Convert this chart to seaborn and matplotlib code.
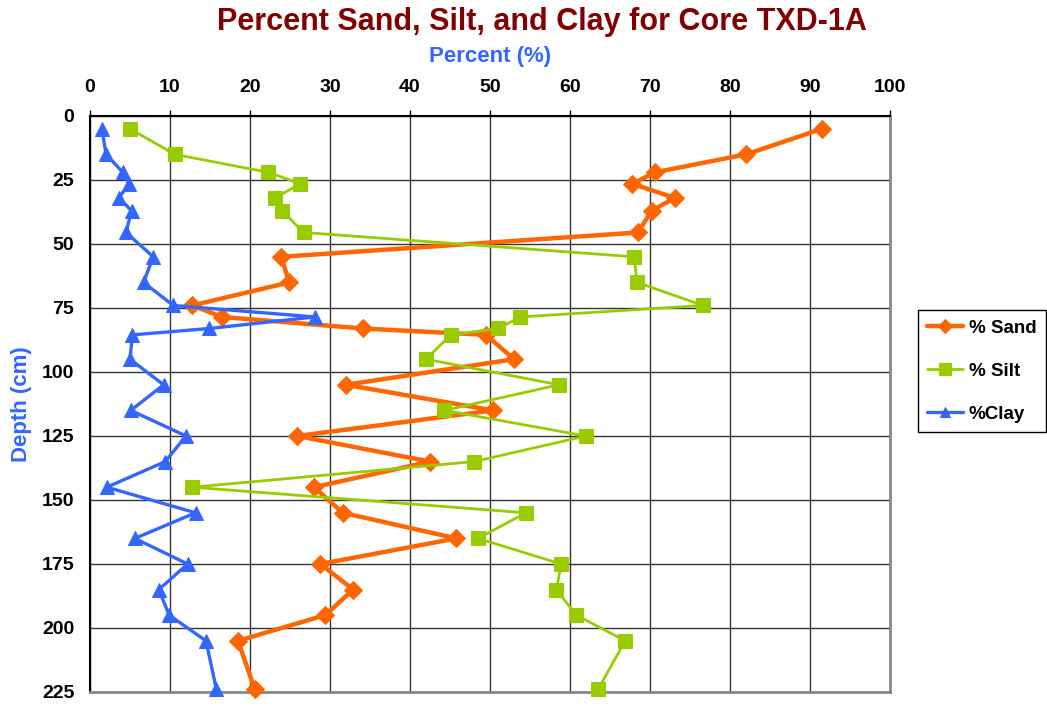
import matplotlib
matplotlib.use("Agg")
import matplotlib.pyplot as plt
import seaborn as sns
import pandas as pd

depth = [5, 15, 22, 26.5, 32, 37, 45.5, 55, 65, 74, 78.5, 83, 85.5, 95, 105,
         115, 125, 135, 145, 155, 165, 175, 185, 195, 205, 224]
sand = [91.5, 82.0, 70.6, 67.8, 73.1, 70.2, 68.5, 23.9, 24.9, 12.8, 16.5, 34.1,
        49.5, 53.0, 32.0, 50.4, 25.9, 42.5, 28.0, 31.6, 45.8, 28.8, 32.9, 29.4,
        18.5, 20.6]
silt = [5.0, 10.6, 22.3, 26.3, 23.1, 24.0, 26.7, 68.0, 68.4, 76.6, 53.8, 51.0,
        45.1, 42.0, 58.6, 44.3, 62.0, 48.0, 12.8, 54.5, 48.5, 58.9, 58.3, 60.8,
        66.9, 63.5]
clay = [1.5, 2.0, 4.1, 4.9, 3.6, 5.2, 4.5, 7.9, 6.7, 10.4, 28.1, 14.9, 5.3, 5.0,
        9.2, 5.1, 12.0, 9.4, 2.1, 13.2, 5.6, 12.2, 8.6, 9.9, 14.5, 15.8]
series_names = ["% Sand", "% Silt", "%Clay"]
x_ticks = [0, 10, 20, 30, 40, 50, 60, 70, 80, 90, 100]
y_ticks = [0, 25, 50, 75, 100, 125, 150, 175, 200, 225]

df = pd.DataFrame({"depth": depth, "sand": sand, "silt": silt, "clay": clay})

sns.set_theme(style="white")
plt.rcParams["font.family"] = ["Liberation Sans", "DejaVu Sans"]
plt.rcParams["font.weight"] = "bold"
plt.rcParams["text.color"] = "black"
plt.rcParams["xtick.color"] = "black"
plt.rcParams["ytick.color"] = "black"

fig = plt.figure(figsize=(10.47, 7.06), dpi=100)
ax = fig.add_axes([90 / 1047, 1 - 692 / 706, 800 / 1047, 576 / 706])

styles = [
    ("sand", "#FF6600", "D", 9, 3.2),
    ("silt", "#99CC00", "s", 10, 2.0),
    ("clay", "#3366FF", "^", 9.5, 2.4),
]
for (col, color, mk, ms, lw), name in zip(styles, series_names):
    sns.lineplot(data=df, x=col, y="depth", sort=False, estimator=None,
                 color=color, marker=mk, markersize=ms, linewidth=lw,
                 markeredgecolor=color, label=name, ax=ax, clip_on=False,
                 zorder=3)

ax.set_xlim(0, 100)
ax.set_ylim(225, 0)
ax.set_xticks(x_ticks)
ax.set_yticks(y_ticks)
ax.xaxis.tick_top()
ax.xaxis.set_label_position("top")
ax.tick_params(axis="both", which="both", direction="out", length=4.3,
               width=1, color="black", labelcolor="black", labelsize=14)
ax.tick_params(axis="x", pad=10)
ax.tick_params(axis="y", pad=7)
for lab in ax.get_xticklabels() + ax.get_yticklabels():
    lab.set_fontweight("bold")
ax.grid(True, color="#333333", linewidth=1)
ax.set_axisbelow(True)
for side in ["top", "left"]:
    ax.spines[side].set_color("black")
    ax.spines[side].set_linewidth(1.5)
for side in ["right", "bottom"]:
    ax.spines[side].set_color("#888888")
    ax.spines[side].set_linewidth(2)

ax.set_xlabel("Percent (%)", color="#3366FF", fontsize=16, fontweight="bold",
              labelpad=12)
ax.set_ylabel("Depth (cm)", color="#3366FF", fontsize=16, fontweight="bold",
              labelpad=7)
fig.suptitle("Percent Sand, Silt, and Clay for Core TXD-1A", color="#800000",
             fontsize=22, fontweight="bold", x=0.518, y=0.99)

leg = ax.legend(loc="center left", bbox_to_anchor=(918 / 1047, 0.474),
                bbox_transform=fig.transFigure, borderaxespad=0,
                frameon=True, fancybox=False,
                framealpha=1, edgecolor="black", fontsize=13.5,
                labelspacing=1.38, handlelength=1.9, borderpad=0.5,
                handletextpad=0.3, markerscale=0.8)
leg.get_frame().set_linewidth(1)
for t in leg.get_texts():
    t.set_fontweight("bold")
    t.set_color("black")

fig.savefig("out.png", dpi=100)
